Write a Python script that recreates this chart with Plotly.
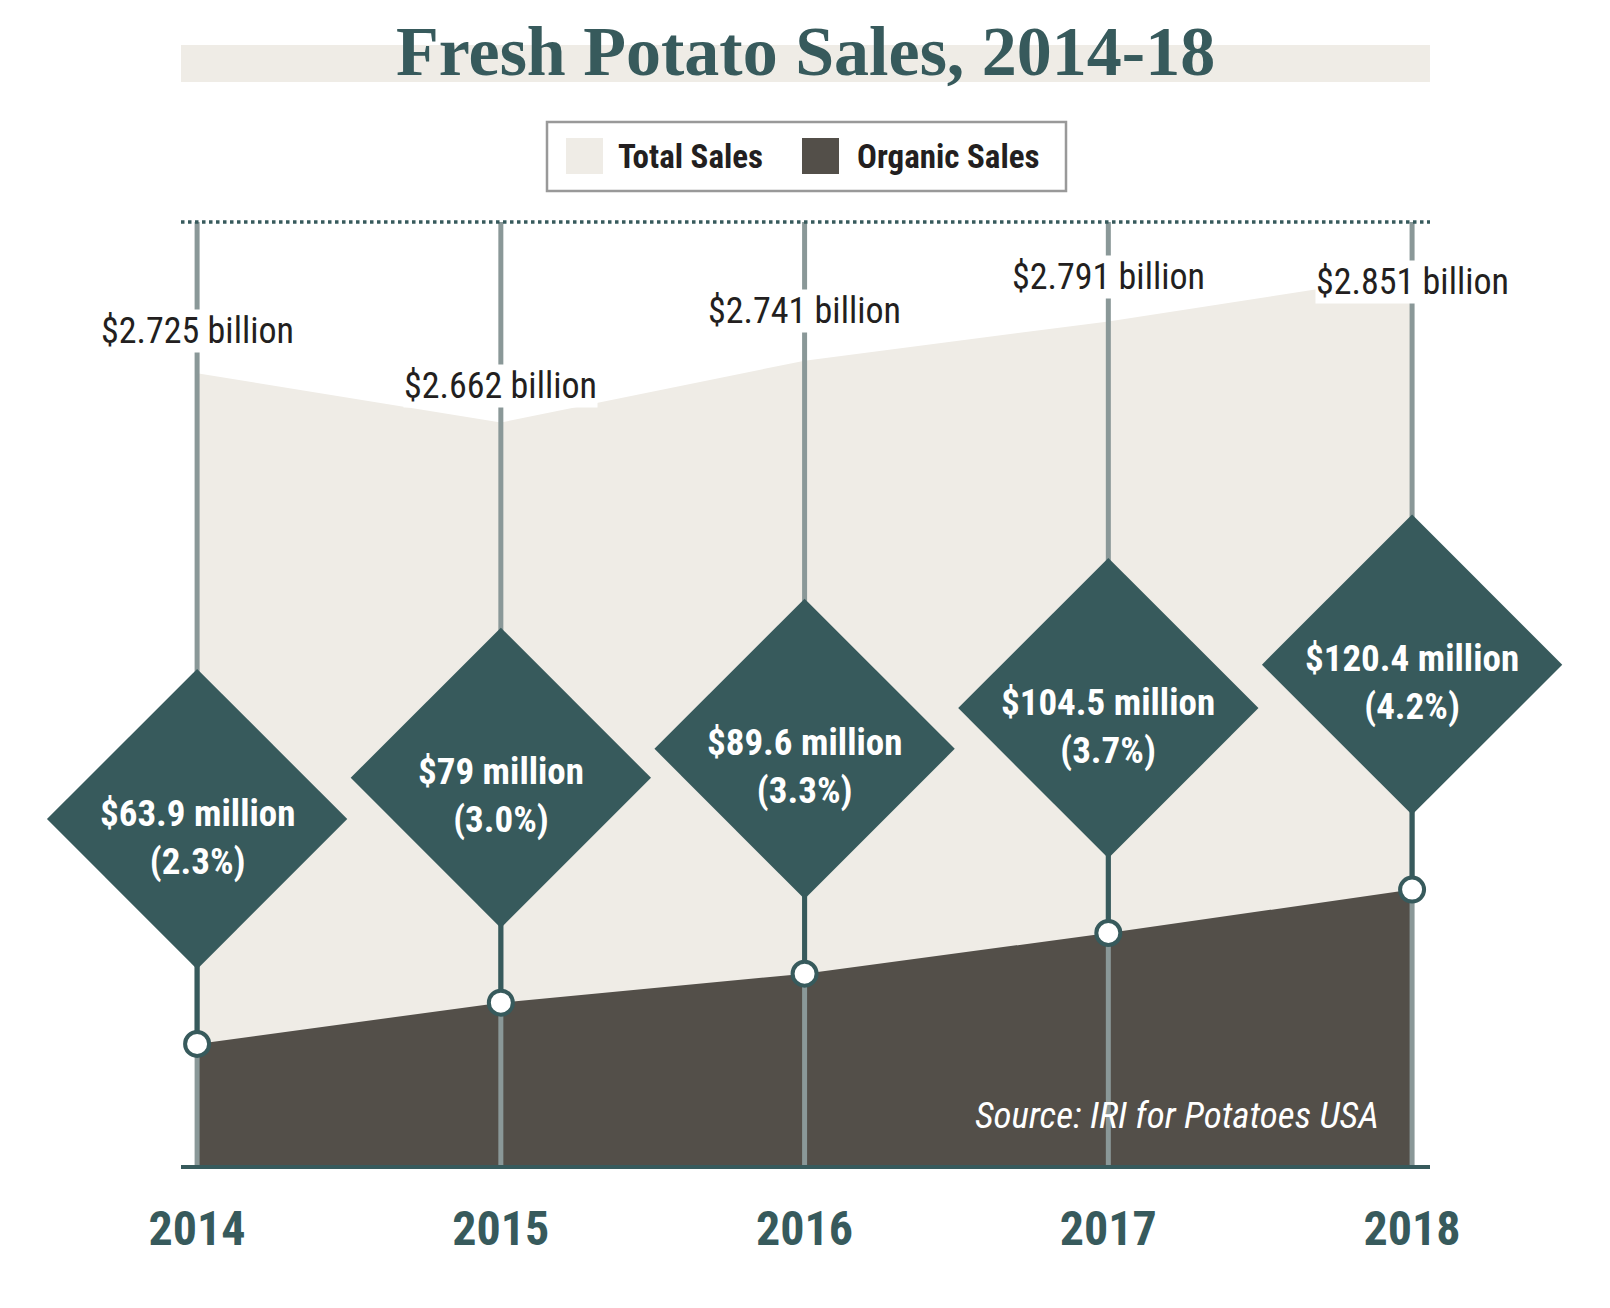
import plotly.graph_objects as go

years = [2014, 2015, 2016, 2017, 2018]
total_sales = [2.725, 2.662, 2.741, 2.791, 2.851]      # billion $
organic_sales = [63.9, 79, 89.6, 104.5, 120.4]          # million $
total_labels = ["$2.725 billion", "$2.662 billion", "$2.741 billion",
                "$2.791 billion", "$2.851 billion"]
organic_labels = ["$63.9 million", "$79 million", "$89.6 million",
                  "$104.5 million", "$120.4 million"]
year_labels = ["2014", "2015", "2016", "2017", "2018"]

TEAL = "#375A5C"
GREY = "#8A9898"
BEIGE = "#EFECE6"
DARK = "#534F49"
INK = "#231F20"
COND = "Roboto Condensed, Roboto, sans-serif"

OFF = 8                      # page body margin
W, H = 1610 - OFF, 1308 - OFF
PL, PR, PT, PB = 181, 1430, 222, 1165   # plot box in reference pixels


def px(x):
    return (x - PL) / (PR - PL)


def py(y):
    return (PB - y) / (PB - PT)


X_RANGE = [2013.947, 2018.059]
TOTAL_RANGE = [1.714, 2.918]
ORGANIC_RANGE = [19.6, 364.7]
LIFT = 82.3                     # diamond centre above its dot, organic units
label_shift = [42, 37, 50, 44, -8]

fig = go.Figure()

fig.add_trace(go.Scatter(x=years, y=total_sales, yaxis="y", mode="lines",
                         line=dict(width=0), fill="tozeroy", fillcolor=BEIGE,
                         name="Total Sales", showlegend=False, hoverinfo="skip"))
fig.add_trace(go.Scatter(x=years, y=organic_sales, yaxis="y2", mode="lines",
                         line=dict(width=0), fill="tozeroy", fillcolor=DARK,
                         name="Organic Sales", showlegend=False, hoverinfo="skip"))

# grey year lines
gx, gy = [], []
for yr in years:
    gx += [yr, yr, None]
    gy += [ORGANIC_RANGE[0], ORGANIC_RANGE[1], None]
fig.add_trace(go.Scatter(x=gx, y=gy, yaxis="y2", mode="lines",
                         line=dict(color=GREY, width=5), showlegend=False,
                         hoverinfo="skip"))

# teal stems from dot to diamond
sx, sy = [], []
for yr, o in zip(years, organic_sales):
    sx += [yr, yr, None]
    sy += [o, o + LIFT, None]
fig.add_trace(go.Scatter(x=sx, y=sy, yaxis="y2", mode="lines",
                         line=dict(color=TEAL, width=5), showlegend=False,
                         hoverinfo="skip"))

fig.add_trace(go.Scatter(x=years, y=[o + LIFT for o in organic_sales], yaxis="y2",
                         mode="markers", cliponaxis=False,
                         marker=dict(symbol="diamond", size=231, color=TEAL,
                                     line=dict(width=0)),
                         showlegend=False, hoverinfo="skip"))
fig.add_trace(go.Scatter(x=years, y=organic_sales, yaxis="y2", mode="markers",
                         cliponaxis=False,
                         marker=dict(symbol="circle", size=24, color="white",
                                     line=dict(color=TEAL, width=4)),
                         showlegend=False, hoverinfo="skip"))

ann = []
for yr, t, lab, sh in zip(years, total_sales, total_labels, label_shift):
    ann.append(dict(x=yr, y=t, xref="x", yref="y", text=lab, showarrow=False,
                    yshift=sh, bgcolor="white", borderpad=0, yanchor="middle",
                    font=dict(family=COND, size=36, color=INK)))
for yr, o, t, lab in zip(years, organic_sales, total_sales, organic_labels):
    share = o / (t * 1000) * 100
    ann.append(dict(x=yr, y=o + LIFT, xref="x", yref="y2",
                    text=f"<b>{lab}<br>({share:.1f}%)</b>", showarrow=False,
                    yshift=-18, yanchor="middle",
                    font=dict(family=COND, size=37, color="white")))

ann.append(dict(x=0.5, y=py(52), xref="paper", yref="paper", xanchor="center",
                yanchor="middle", text="<b>Fresh Potato Sales, 2014-18</b>",
                showarrow=False,
                font=dict(family="Liberation Serif, serif", size=70, color=TEAL)))
ann.append(dict(x=px(616), y=py(157), xref="paper", yref="paper", xanchor="left",
                yanchor="middle", text="<b>Total Sales</b>", showarrow=False,
                font=dict(family=COND, size=33, color=INK)))
ann.append(dict(x=px(855), y=py(157), xref="paper", yref="paper", xanchor="left",
                yanchor="middle", text="<b>Organic Sales</b>", showarrow=False,
                font=dict(family=COND, size=33, color=INK)))
ann.append(dict(x=px(1381), y=py(1115), xref="paper", yref="paper", xanchor="right",
                yanchor="middle", text="<i>Source: IRI for Potatoes USA</i>",
                showarrow=False, font=dict(family=COND, size=37, color="white")))

shapes = [
    dict(type="rect", xref="paper", yref="paper", x0=0, x1=1, y0=py(82), y1=py(45),
         fillcolor=BEIGE, line=dict(width=0), layer="below"),
    dict(type="rect", xref="paper", yref="paper", x0=px(547), x1=px(1066),
         y0=py(191), y1=py(122), fillcolor="white", line=dict(color="#999999", width=2.5)),
    dict(type="rect", xref="paper", yref="paper", x0=px(566), x1=px(603),
         y0=py(174), y1=py(138), fillcolor=BEIGE, line=dict(width=0)),
    dict(type="rect", xref="paper", yref="paper", x0=px(802), x1=px(839),
         y0=py(174), y1=py(138), fillcolor=DARK, line=dict(width=0)),
    dict(type="line", xref="paper", yref="paper", x0=0, x1=1, y0=1, y1=1,
         line=dict(color=TEAL, width=3.5, dash="dot")),
]

fig.update_layout(
    width=W, height=H,
    margin=dict(l=PL - OFF, r=W - (PR - OFF), t=PT - OFF, b=H - (PB - OFF)),
    paper_bgcolor="white", plot_bgcolor="white",
    showlegend=False,
    xaxis=dict(range=X_RANGE, tickvals=years, ticktext=year_labels,
               showgrid=False, zeroline=False, showline=True,
               linecolor=TEAL, linewidth=4, ticks="outside", ticklen=18,
               tickwidth=0, tickcolor="white",
               tickfont=dict(family=COND, size=48, color=TEAL, weight="bold")),
    yaxis=dict(range=TOTAL_RANGE, visible=False),
    yaxis2=dict(range=ORGANIC_RANGE, overlaying="y", visible=False),
    annotations=ann,
    shapes=shapes,
)

fig.write_html("out.html")
